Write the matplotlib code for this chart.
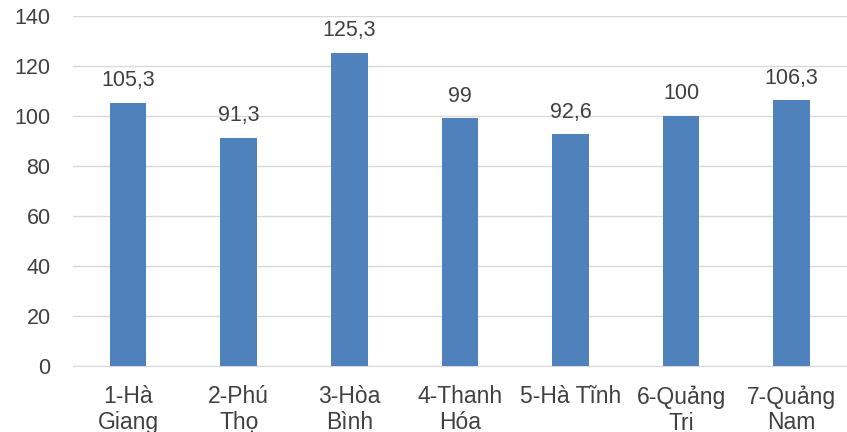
import matplotlib

matplotlib.use("Agg")

import matplotlib.pyplot as plt

plt.rcParams["font.family"] = ["Liberation Sans", "DejaVu Sans"]

CATEGORIES = ["1-Hà\nGiang", "2-Phú\nThọ", "3-Hòa\nBình", "4-Thanh\nHóa", "5-Hà Tĩnh", "6-Quảng\nTrị", "7-Quảng\nNam"]
VALUES = [105.3, 91.3, 125.3, 99, 92.6, 100, 106.3]
LABELS = ["105,3", "91,3", "125,3", "99", "92,6", "100", "106,3"]
Y_TICKS = [0, 20, 40, 60, 80, 100, 120, 140]

TEXT_COLOR = "#404040"
BAR_COLOR = "#4F81BD"

fig = plt.figure(figsize=(8.47, 4.32), dpi=100)
ax = fig.add_axes([0.086, 0.153, 0.914, 0.81])

x = list(range(len(CATEGORIES)))
ax.bar(x, VALUES, width=0.33, color=BAR_COLOR, zorder=3)
for xi, v, lab in zip(x, VALUES, LABELS):
    ax.annotate(lab, (xi, v), xytext=(0, 12), textcoords="offset points",
                ha="center", va="baseline", fontsize=15.5, color=TEXT_COLOR)

ax.set_xlim(-0.5, len(CATEGORIES) - 0.5)
ax.set_ylim(0, 140)
ax.set_yticks(Y_TICKS)
ax.set_xticks(x)
ax.set_xticklabels(CATEGORIES, fontsize=16.5, color=TEXT_COLOR, linespacing=1.12)
ax.tick_params(axis="y", labelsize=15.5, labelcolor=TEXT_COLOR, length=0, pad=16)
ax.tick_params(axis="x", length=0, pad=14)
ax.grid(axis="y", color="#D9D9D9", linewidth=1, zorder=0)
for side in ("top", "right", "left"):
    ax.spines[side].set_visible(False)
ax.spines["bottom"].set_color("#D9D9D9")
ax.spines["bottom"].set_zorder(1)

fig.savefig("out.png", dpi=100)
